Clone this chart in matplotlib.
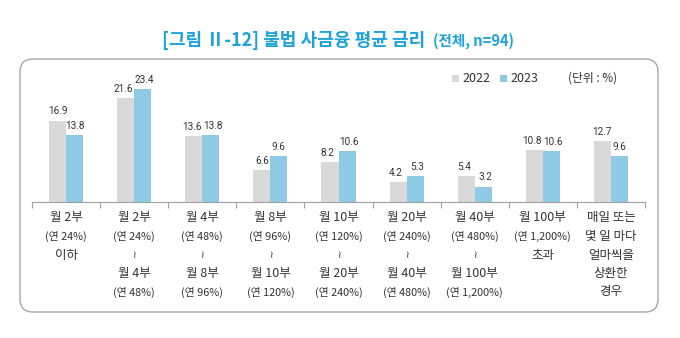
import matplotlib
matplotlib.use("Agg")
import matplotlib.pyplot as plt
import matplotlib.transforms as mtransforms
from matplotlib.patches import FancyBboxPatch, Rectangle
import numpy as np

plt.rcParams['font.family'] = ['Noto Sans CJK KR', 'DejaVu Sans']

categories = [
    ["월 2부", "(연 24%)", "이하"],
    ["월 2부", "(연 24%)", "≀", "월 4부", "(연 48%)"],
    ["월 4부", "(연 48%)", "≀", "월 8부", "(연 96%)"],
    ["월 8부", "(연 96%)", "≀", "월 10부", "(연 120%)"],
    ["월 10부", "(연 120%)", "≀", "월 20부", "(연 240%)"],
    ["월 20부", "(연 240%)", "≀", "월 40부", "(연 480%)"],
    ["월 40부", "(연 480%)", "≀", "월 100부", "(연 1,200%)"],
    ["월 100부", "(연 1,200%)", "초과"],
    ["매일 또는", "몇 일 마다", "얼마씩을", "상환한", "경우"],
]
values_2022 = [16.9, 21.6, 13.6, 6.6, 8.2, 4.2, 5.4, 10.8, 12.7]
values_2023 = [13.8, 23.4, 13.8, 9.6, 10.6, 5.3, 3.2, 10.6, 9.6]
series_names = ["2022", "2023"]
title_main = "[그림 Ⅱ-12] 불법 사금융 평균 금리"
title_sub = "(전체, n=94)"
unit_text = "(단위 : %)"

W, H = 680, 338
fig = plt.figure(figsize=(W / 100, H / 100), dpi=100)
fig.patch.set_facecolor("white")

c22 = "#d9d9d9"
c23 = "#8ecae6"
title_color = "#1fa2dc"
text_color = "#333333"
num_font = ['Roboto', 'DejaVu Sans']

def fx(px):
    return px / W

def fy(py):
    return 1 - py / H

# rounded frame (pixel coordinates)
ident = mtransforms.IdentityTransform()
box = FancyBboxPatch((20, H - 312), 638, 253,
                     boxstyle="round,pad=0,rounding_size=13",
                     transform=ident, facecolor="none",
                     edgecolor="#a6a6a6", linewidth=1.0)
fig.patches.append(box)

# axes
ax_left, ax_right = 32, 645
ax_bottom, ax_top = 202, 70
ax = fig.add_axes([fx(ax_left), fy(ax_bottom), fx(ax_right - ax_left), (ax_bottom - ax_top) / H])
ax.set_facecolor("none")
n = len(values_2022)
x = np.arange(n)
bw = 0.25
ax.bar(x - bw / 2, values_2022, width=bw, color=c22, label=series_names[0])
ax.bar(x + bw / 2, values_2023, width=bw, color=c23, label=series_names[1])
ax.set_xlim(-0.5, n - 0.5)
ymax = (ax_bottom - ax_top) / 4.82
ax.set_ylim(0, ymax)
for s in ["top", "right", "left"]:
    ax.spines[s].set_visible(False)
ax.spines["bottom"].set_color("#a0a0a0")
ax.spines["bottom"].set_linewidth(0.8)
ax.set_yticks([])
ax.set_xticks(np.arange(-0.5, n, 1.0))
ax.set_xticklabels([])
ax.tick_params(axis="x", direction="out", length=4, color="#a0a0a0", width=0.8)

for i in range(n):
    v1, v2 = values_2022[i], values_2023[i]
    close = abs(v1 - v2) < 2.5
    dx = 1.5 if close else 0
    ax.annotate(f"{v1}", (x[i] - bw / 2, v1), xytext=(-dx, 3), textcoords="offset points",
                ha="center", va="bottom", fontsize=7.2, color=text_color, family=num_font)
    ax.annotate(f"{v2}", (x[i] + bw / 2, v2), xytext=(dx, 3), textcoords="offset points",
                ha="center", va="bottom", fontsize=7.2, color=text_color, family=num_font)

# category labels
blend = mtransforms.blended_transform_factory(ax.transData, fig.transFigure)
line_y = [217, 236, 255, 274, 292]
for i, lines in enumerate(categories):
    for j, t in enumerate(lines):
        if t == "≀":
            ax.text(x[i], fy(line_y[j]), t, transform=blend, ha="center", va="center",
                    fontsize=7, color=text_color, clip_on=False, family=['DejaVu Sans'])
            continue
        small = t.startswith("(")
        fs = 7.8 if small else 9
        ax.text(x[i], fy(line_y[j]), t, transform=blend, ha="center", va="center",
                fontsize=fs, color=text_color, clip_on=False)

# title
t1 = fig.text(fx(340), fy(40), title_main, ha="left", va="center",
              fontsize=13, fontweight="bold", color=title_color)
t2 = fig.text(0, fy(41), title_sub, ha="left", va="center",
              fontsize=10.5, fontweight="bold", color=title_color)
fig.canvas.draw()
r = fig.canvas.get_renderer()
main_w = t1.get_window_extent(renderer=r).width
sub_w = t2.get_window_extent(renderer=r).width
gap = 8
total = main_w + gap + sub_w
start = 338 - total / 2
t1.set_x(fx(start))
t2.set_x(fx(start + main_w + gap))

# legend
sq = 7
ly = 78
for px, col, lab in [(452, c22, series_names[0]), (500, c23, series_names[1])]:
    fig.patches.append(Rectangle((px, H - ly - sq / 2), sq, sq, transform=ident,
                                 facecolor=col, edgecolor="none"))
    fig.text(fx(px + sq + 3), fy(ly), lab, ha="left", va="center", fontsize=9, color=text_color)
fig.text(fx(568), fy(ly), unit_text, ha="left", va="center", fontsize=8.5, color=text_color)

fig.savefig("out.png", dpi=100)
